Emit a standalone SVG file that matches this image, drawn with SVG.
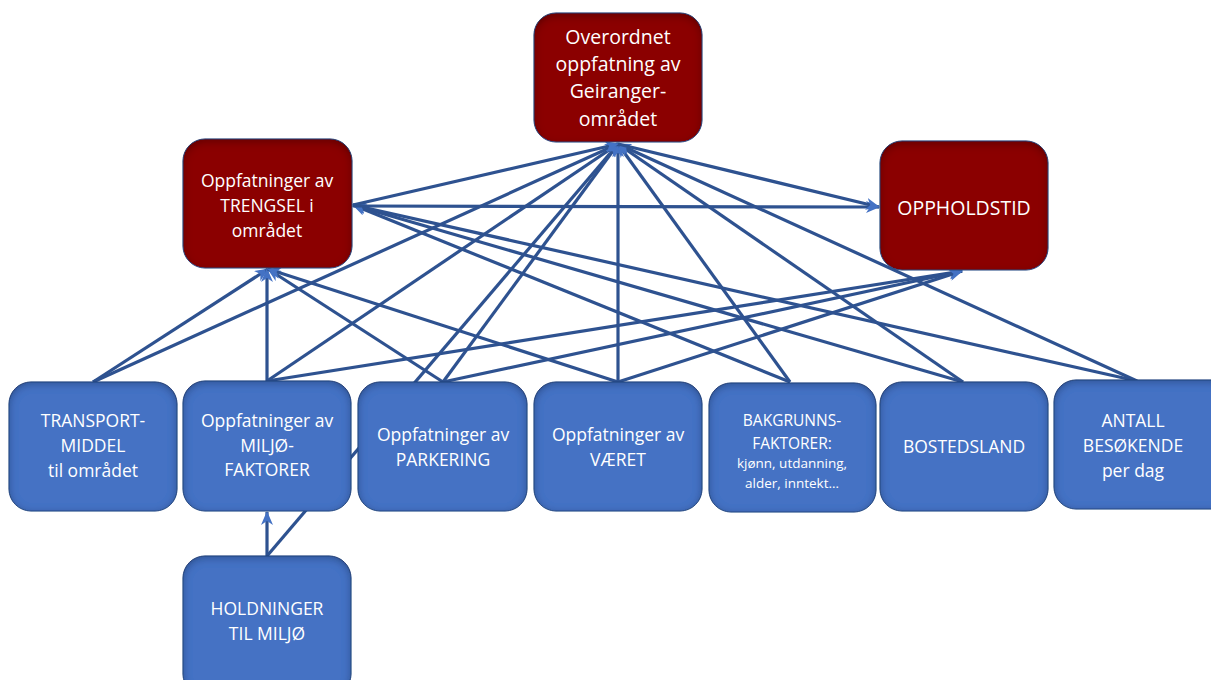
<svg xmlns="http://www.w3.org/2000/svg" width="1211" height="680" viewBox="0 0 1211 680">
<style>
.blue{fill:#4472C4;stroke:#2F528F;stroke-width:1;filter:url(#inset)}
.red{fill:#8B0000;stroke:#2F528F;stroke-width:1;filter:url(#insetR)}
.t{font-family:"Open Sans","Liberation Sans",sans-serif;fill:#FFFFFF;text-anchor:middle;font-size:17.5px}
.tl{font-size:19.5px}
.ts{font-size:15.5px}
.tx{font-size:13.5px}
.c line{stroke:#2E5290;stroke-width:3.2;marker-end:url(#ah)}
</style>
<defs>
<marker id="ah" markerUnits="userSpaceOnUse" markerWidth="14" markerHeight="12" refX="13" refY="6" orient="auto">
<path d="M0,0 L14,6 L0,12 L4,6 Z" fill="#4472C4"/>
</marker>
<filter id="inset" x="-5%" y="-5%" width="110%" height="110%">
<feFlood flood-color="#0B1F45" flood-opacity="0.7" result="f"/>
<feComposite in="f" in2="SourceAlpha" operator="out" result="o"/>
<feGaussianBlur in="o" stdDeviation="4" result="b"/>
<feOffset in="b" dy="2" result="bo"/>
<feComposite in="bo" in2="SourceAlpha" operator="in" result="s"/>
<feMerge><feMergeNode in="SourceGraphic"/><feMergeNode in="s"/></feMerge>
</filter>
<filter id="insetR" x="-5%" y="-5%" width="110%" height="110%">
<feFlood flood-color="#200000" flood-opacity="0.7" result="f"/>
<feComposite in="f" in2="SourceAlpha" operator="out" result="o"/>
<feGaussianBlur in="o" stdDeviation="4" result="b"/>
<feOffset in="b" dy="3" result="bo"/>
<feComposite in="bo" in2="SourceAlpha" operator="in" result="s"/>
<feMerge><feMergeNode in="SourceGraphic"/><feMergeNode in="s"/></feMerge>
</filter>
</defs>
<rect width="1211" height="680" fill="#FFFFFF"/>
<g id="connectors" class="c">
<line x1="267" y1="556" x2="618" y2="144"/>
<line x1="93" y1="382" x2="268" y2="269"/>
<line x1="93" y1="382" x2="618" y2="144"/>
<line x1="267" y1="381" x2="267" y2="269"/>
<line x1="267" y1="381" x2="618" y2="144"/>
<line x1="267" y1="381" x2="962" y2="271"/>
<line x1="443" y1="382" x2="268" y2="269"/>
<line x1="443" y1="382" x2="618" y2="144"/>
<line x1="443" y1="382" x2="962" y2="271"/>
<line x1="618" y1="382" x2="268" y2="269"/>
<line x1="618" y1="382" x2="618" y2="144"/>
<line x1="618" y1="382" x2="962" y2="271"/>
<line x1="790" y1="382" x2="353" y2="205"/>
<line x1="790" y1="382" x2="618" y2="144"/>
<line x1="963" y1="382" x2="353" y2="205"/>
<line x1="963" y1="382" x2="618" y2="144"/>
<line x1="1137" y1="381" x2="353" y2="205"/>
<line x1="1137" y1="381" x2="618" y2="144"/>
<line x1="353" y1="205" x2="618" y2="144"/>
<line x1="353" y1="206" x2="879" y2="207"/>
<line x1="618" y1="144" x2="879" y2="207"/>
<line x1="267" y1="556" x2="267" y2="512"/>
</g>
<g id="overordnet">
<rect class="red" x="534" y="13" width="168" height="129" rx="22"/>
<text class="t tl" x="618" y="44">Overordnet</text>
<text class="t tl" x="618" y="71">oppfatning av</text>
<text class="t tl" x="618" y="98">Geiranger-</text>
<text class="t tl" x="618" y="126">området</text>
</g>
<g id="trengsel">
<rect class="red" x="183" y="139" width="169" height="129" rx="22"/>
<text class="t" x="267" y="187">Oppfatninger av</text>
<text class="t" x="267" y="212">TRENGSEL i</text>
<text class="t" x="267" y="237">området</text>
</g>
<g id="oppholdstid">
<rect class="red" x="880" y="141" width="168" height="129" rx="22"/>
<text class="t tl" x="964" y="215">OPPHOLDSTID</text>
</g>
<g id="transport">
<rect class="blue" x="9" y="382" width="168" height="129" rx="22"/>
<text class="t" x="93" y="427">TRANSPORT-</text>
<text class="t" x="93" y="452">MIDDEL</text>
<text class="t" x="93" y="477">til området</text>
</g>
<g id="miljo">
<rect class="blue" x="183" y="381" width="168" height="130" rx="22"/>
<text class="t" x="267" y="427">Oppfatninger av</text>
<text class="t" x="267" y="452">MILJØ-</text>
<text class="t" x="267" y="476">FAKTORER</text>
</g>
<g id="parkering">
<rect class="blue" x="358" y="382" width="169" height="129" rx="22"/>
<text class="t" x="443" y="441">Oppfatninger av</text>
<text class="t" x="443" y="466">PARKERING</text>
</g>
<g id="vaeret">
<rect class="blue" x="534" y="382" width="168" height="129" rx="22"/>
<text class="t" x="618" y="441">Oppfatninger av</text>
<text class="t" x="618" y="466">VÆRET</text>
</g>
<g id="bakgrunn">
<rect class="blue" x="709" y="383" width="167" height="129" rx="22"/>
<text class="t ts" x="792" y="426">BAKGRUNNS-</text>
<text class="t ts" x="792" y="449">FAKTORER:</text>
<text class="t tx" x="792" y="468">kjønn, utdanning,</text>
<text class="t tx" x="792" y="488">alder, inntekt…</text>
</g>
<g id="bostedsland">
<rect class="blue" x="880" y="382" width="168" height="129" rx="22"/>
<text class="t" x="964" y="453">BOSTEDSLAND</text>
</g>
<g id="antall">
<rect class="blue" x="1054" y="380" width="180" height="129" rx="22"/>
<text class="t" x="1133" y="427">ANTALL</text>
<text class="t" x="1133" y="452">BESØKENDE</text>
<text class="t" x="1133" y="477">per dag</text>
</g>
<g id="holdninger">
<rect class="blue" x="183" y="556" width="168" height="140" rx="22"/>
<text class="t" x="267" y="615">HOLDNINGER</text>
<text class="t" x="267" y="640">TIL MILJØ</text>
</g>
</svg>
